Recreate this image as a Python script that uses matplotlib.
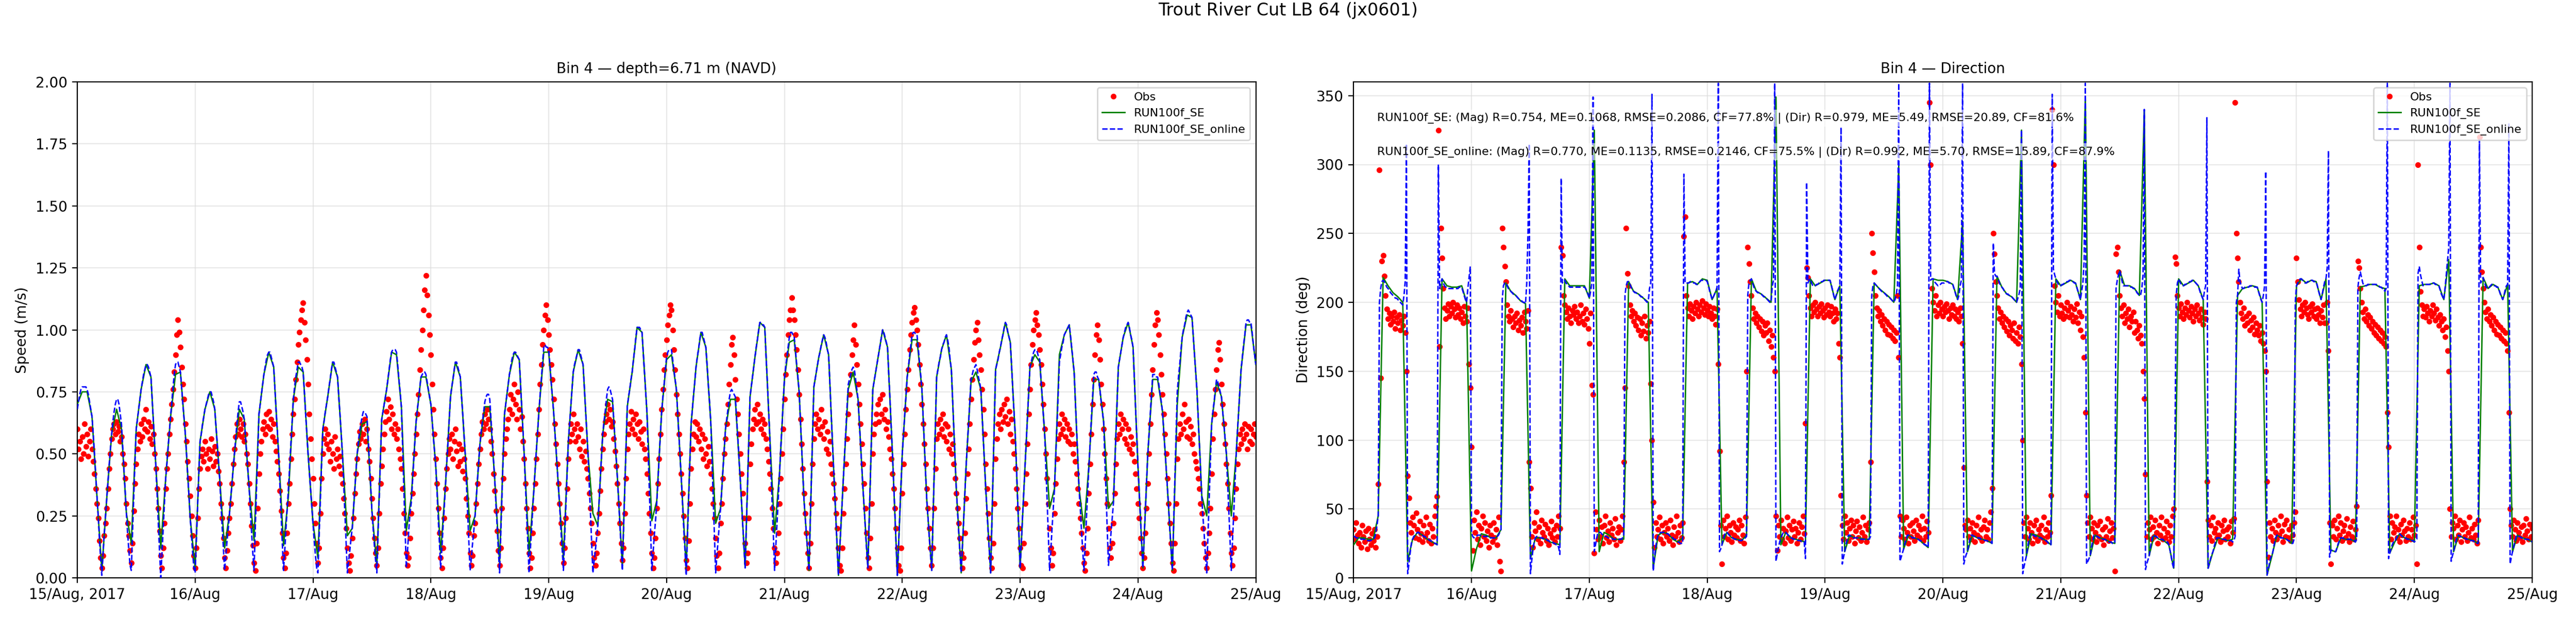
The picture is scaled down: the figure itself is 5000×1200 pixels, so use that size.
import matplotlib
matplotlib.use("Agg")
import matplotlib.pyplot as plt
import numpy as np
from datetime import datetime, timedelta

# ---------------- data ----------------
SUPTITLE = "Trout River Cut LB 64 (jx0601)"
TITLE_SPD = "Bin 4 \u2014 depth=6.71 m (NAVD)"
TITLE_DIR = "Bin 4 \u2014 Direction"
SERIES = ["Obs", "RUN100f_SE", "RUN100f_SE_online"]
STATS = [
    "RUN100f_SE: (Mag) R=0.754, ME=0.1068, RMSE=0.2086, CF=77.8% | (Dir) R=0.979, ME=5.49, RMSE=20.89, CF=81.6%",
    "RUN100f_SE_online: (Mag) R=0.770, ME=0.1135, RMSE=0.2146, CF=75.5% | (Dir) R=0.992, ME=5.70, RMSE=15.89, CF=87.9%",
]
TICK_LABELS = ["15/Aug, 2017", "16/Aug", "17/Aug", "18/Aug", "19/Aug", "20/Aug",
               "21/Aug", "22/Aug", "23/Aug", "24/Aug", "25/Aug"]
START = datetime(2017, 8, 15)

# RUN100f_SE speed, hourly (cm/s)
SPD_SE_CMS = [
    70, 75, 75, 65, 33, 3, 32, 58, 68, 60,
    26, 14, 60, 76, 86, 81, 45, 12, 40, 65,
    82, 83, 58, 24, 4, 55, 68, 75, 68, 40,
    12, 26, 50, 68, 64, 36, 15, 66, 82, 91,
    85, 50, 13, 33, 72, 85, 83, 50, 22, 8,
    60, 73, 87, 81, 50, 17, 20, 50, 62, 63,
    27, 5, 64, 76, 91, 90, 69, 19, 32, 63,
    81, 81, 70, 45, 10, 38, 73, 87, 81, 50,
    19, 25, 54, 69, 69, 40, 6, 66, 82, 91,
    88, 50, 10, 36, 67, 91, 91, 67, 36, 8,
    55, 83, 92, 86, 50, 26, 21, 58, 72, 71,
    40, 5, 69, 83, 101, 99, 67, 23, 31, 67,
    88, 90, 76, 40, 4, 62, 85, 99, 93, 63,
    22, 28, 60, 72, 72, 40, 4, 73, 89, 103,
    101, 58, 18, 42, 80, 95, 96, 75, 31, 3,
    77, 89, 98, 90, 45, 1, 40, 76, 83, 72,
    36, 4, 76, 88, 100, 93, 50, 1, 50, 81,
    96, 96, 76, 31, 3, 81, 92, 98, 84, 36,
    2, 45, 79, 83, 76, 36, 2, 84, 93, 103,
    95, 58, 4, 45, 85, 90, 87, 58, 28, 36,
    90, 98, 102, 83, 36, 20, 45, 80, 80, 63,
    28, 31, 85, 97, 103, 93, 45, 4, 50, 80,
    80, 67, 36, 3, 70, 97, 106, 105, 76, 33,
    25, 62, 79, 73, 50, 25, 50, 84, 102, 102,
    86,
]

# RUN100f_SE_online speed, 15-min (cm/s)
SPD_ONLINE_CMS = [
    68, 71, 74, 76, 77, 77, 77, 77, 76, 74, 71, 68, 65, 58, 50, 42,
    33, 25, 16, 8, 1, 10, 18, 25, 32, 39, 46, 52, 58, 63, 67, 70,
    72, 72, 70, 66, 62, 53, 44, 35, 26, 18, 11, 5, 3, 18, 33, 47,
    60, 64, 68, 72, 76, 79, 82, 84, 86, 86, 85, 83, 81, 72, 63, 54,
    45, 34, 22, 11, 0, 10, 20, 30, 40, 46, 53, 59, 65, 71, 77, 82,
    86, 87, 87, 85, 83, 77, 70, 64, 58, 50, 41, 33, 24, 17, 10, 4,
    2, 15, 29, 42, 55, 58, 62, 65, 68, 70, 72, 74, 75, 75, 73, 71,
    68, 61, 54, 47, 40, 30, 21, 12, 3, 9, 15, 20, 26, 32, 38, 44,
    50, 56, 62, 67, 71, 71, 69, 67, 64, 57, 50, 43, 36, 27, 18, 10,
    3, 20, 36, 51, 66, 70, 74, 78, 82, 85, 88, 90, 91, 91, 89, 87,
    85, 76, 67, 59, 50, 38, 26, 14, 3, 11, 20, 28, 36, 45, 54, 63,
    72, 77, 81, 84, 87, 87, 86, 85, 83, 75, 66, 58, 50, 43, 36, 29,
    22, 15, 9, 4, 2, 17, 31, 46, 60, 63, 67, 70, 73, 77, 80, 84,
    87, 87, 85, 83, 81, 73, 66, 58, 50, 38, 26, 14, 2, 7, 11, 16,
    20, 28, 35, 43, 50, 55, 59, 62, 65, 67, 67, 66, 65, 56, 46, 37,
    27, 20, 13, 7, 2, 18, 33, 49, 64, 67, 70, 73, 76, 80, 84, 88,
    91, 92, 92, 92, 91, 86, 80, 75, 69, 53, 36, 20, 4, 11, 19, 26,
    30, 38, 47, 55, 63, 68, 72, 77, 81, 82, 83, 83, 82, 79, 76, 73,
    70, 64, 57, 51, 45, 35, 24, 14, 4, 12, 21, 29, 38, 47, 55, 64,
    73, 77, 80, 84, 87, 87, 85, 83, 81, 73, 66, 58, 50, 38, 26, 14,
    3, 8, 14, 19, 25, 32, 40, 47, 54, 59, 63, 67, 71, 73, 74, 74,
    72, 64, 56, 48, 40, 30, 21, 11, 2, 18, 34, 50, 66, 70, 74, 78,
    82, 85, 88, 90, 91, 91, 90, 89, 88, 79, 69, 60, 50, 38, 26, 14,
    2, 11, 19, 28, 36, 44, 52, 59, 67, 74, 80, 87, 93, 94, 93, 93,
    92, 86, 79, 73, 67, 59, 52, 44, 36, 28, 19, 11, 3, 16, 29, 42,
    55, 62, 69, 76, 83, 86, 88, 90, 92, 92, 90, 88, 86, 77, 68, 59,
    50, 38, 26, 14, 2, 7, 11, 16, 21, 30, 40, 49, 58, 63, 67, 72,
    76, 77, 76, 74, 72, 64, 56, 48, 40, 31, 21, 12, 3, 20, 36, 53,
    69, 73, 76, 80, 83, 88, 92, 97, 101, 101, 101, 100, 99, 91, 83, 75,
    67, 51, 35, 19, 3, 10, 17, 23, 30, 39, 49, 58, 67, 73, 78, 84,
    89, 91, 92, 92, 92, 88, 84, 80, 76, 67, 58, 49, 40, 30, 20, 11,
    1, 16, 32, 47, 62, 68, 74, 79, 85, 89, 92, 96, 99, 99, 97, 95,
    93, 86, 78, 71, 63, 48, 32, 17, 2, 9, 15, 22, 28, 36, 44, 52,
    60, 64, 68, 72, 75, 76, 75, 74, 73, 65, 57, 48, 40, 31, 22, 13,
    4, 21, 38, 56, 73, 77, 81, 85, 89, 93, 96, 100, 103, 103, 102, 102,
    101, 90, 80, 69, 58, 44, 30, 17, 3, 13, 22, 32, 42, 52, 61, 71,
    80, 85, 89, 93, 97, 99, 99, 98, 97, 92, 86, 81, 75, 64, 53, 42,
    31, 24, 17, 10, 3, 22, 40, 59, 77, 80, 83, 86, 89, 91, 94, 96,
    98, 97, 95, 92, 90, 79, 67, 56, 45, 34, 23, 12, 1, 11, 21, 30,
    40, 50, 59, 69, 78, 80, 82, 84, 85, 84, 80, 76, 72, 63, 54, 45,
    36, 28, 19, 11, 4, 22, 40, 58, 76, 79, 82, 85, 88, 91, 94, 97,
    100, 99, 97, 95, 93, 82, 72, 61, 50, 38, 26, 13, 1, 13, 26, 38,
    50, 58, 66, 73, 81, 85, 90, 94, 98, 99, 99, 98, 98, 93, 87, 82,
    76, 65, 54, 42, 31, 24, 16, 9, 3, 23, 42, 62, 81, 84, 87, 89,
    92, 94, 95, 97, 98, 96, 93, 88, 84, 72, 60, 48, 36, 27, 18, 10,
    2, 13, 23, 34, 45, 54, 62, 71, 80, 82, 84, 85, 86, 84, 81, 79,
    76, 66, 56, 46, 36, 27, 18, 10, 2, 22, 43, 63, 84, 86, 88, 91,
    93, 96, 98, 101, 103, 102, 99, 97, 95, 86, 76, 67, 58, 45, 31, 18,
    4, 14, 25, 35, 45, 55, 65, 75, 85, 87, 89, 91, 92, 92, 91, 89,
    88, 80, 73, 65, 58, 44, 31, 17, 3, 11, 20, 28, 36, 49, 61, 74,
    87, 90, 93, 95, 98, 99, 100, 101, 102, 98, 93, 88, 83, 71, 60, 48,
    36, 28, 19, 11, 3, 13, 24, 34, 45, 54, 64, 73, 82, 83, 83, 81,
    80, 76, 71, 67, 63, 48, 34, 19, 5, 11, 18, 24, 30, 44, 57, 71,
    85, 88, 91, 94, 97, 99, 101, 102, 103, 101, 98, 96, 93, 81, 69, 57,
    45, 35, 24, 14, 4, 16, 27, 39, 50, 58, 66, 74, 82, 82, 82, 81,
    81, 78, 74, 71, 67, 59, 52, 44, 36, 28, 19, 11, 3, 21, 39, 57,
    75, 81, 86, 92, 97, 100, 102, 105, 107, 108, 107, 106, 105, 98, 90, 83,
    76, 65, 54, 43, 32, 24, 17, 9, 2, 17, 32, 47, 62, 67, 71, 76,
    80, 79, 77, 75, 73, 67, 62, 56, 50, 38, 27, 15, 3, 15, 26, 38,
    50, 59, 67, 76, 84, 89, 94, 98, 103, 104, 104, 103, 103, 99, 94, 90,
    86,
]

# Observed speed, 15-min (cm/s)
SPD_OBS_CMS = [
    60, 52, 55, 48, 57, 50, 62, 53, 58, 49, 55, 60, 52, 47, 42, 36,
    30, 24, 15, 8, 4, 9, 17, 22, 28, 36, 44, 50, 56, 60, 62, 58,
    63, 59, 61, 55, 57, 50, 46, 40, 30, 22, 17, 11, 6, 14, 27, 38,
    46, 52, 58, 55, 62, 57, 64, 60, 68, 59, 63, 56, 61, 54, 58, 50,
    44, 36, 28, 19, 9, 4, 12, 22, 36, 44, 50, 58, 64, 70, 76, 83,
    90, 98, 104, 99, 93, 85, 78, 72, 62, 55, 47, 40, 33, 25, 17, 9,
    4, 12, 24, 36, 44, 49, 52, 47, 55, 50, 44, 52, 48, 56, 51, 45,
    53, 47, 50, 43, 38, 30, 24, 16, 8, 4, 11, 18, 24, 30, 38, 46,
    52, 57, 62, 58, 64, 60, 57, 62, 55, 58, 50, 46, 38, 30, 21, 13,
    6, 3, 14, 28, 42, 50, 55, 60, 63, 58, 66, 61, 67, 60, 64, 57,
    62, 55, 51, 47, 42, 35, 27, 18, 8, 4, 10, 18, 30, 38, 48, 58,
    66, 72, 80, 87, 94, 99, 104, 108, 111, 103, 96, 88, 78, 66, 56, 48,
    40, 30, 22, 14, 6, 12, 26, 40, 50, 56, 60, 54, 58, 52, 47, 55,
    50, 44, 57, 48, 52, 45, 49, 42, 38, 32, 26, 20, 12, 6, 3, 9,
    16, 24, 34, 42, 48, 54, 59, 56, 62, 58, 64, 55, 60, 52, 47, 40,
    32, 24, 16, 10, 5, 12, 26, 38, 45, 52, 58, 63, 67, 72, 64, 69,
    60, 66, 58, 62, 56, 60, 52, 48, 44, 36, 26, 18, 10, 5, 8, 16,
    26, 34, 42, 50, 58, 66, 74, 84, 92, 100, 108, 116, 122, 114, 106, 98,
    90, 78, 68, 58, 48, 38, 28, 18, 8, 4, 12, 24, 36, 44, 50, 56,
    52, 58, 48, 55, 60, 51, 45, 54, 47, 52, 43, 48, 40, 32, 25, 18,
    10, 5, 9, 17, 22, 30, 38, 46, 52, 58, 63, 60, 66, 62, 68, 64,
    60, 55, 50, 42, 35, 27, 19, 11, 5, 12, 28, 40, 50, 56, 60, 64,
    68, 74, 66, 72, 78, 70, 64, 75, 68, 60, 65, 55, 48, 38, 28, 20,
    10, 4, 8, 18, 28, 38, 48, 58, 68, 78, 86, 94, 100, 106, 110, 104,
    98, 92, 86, 80, 72, 62, 54, 46, 38, 30, 22, 14, 6, 12, 24, 36,
    48, 55, 62, 58, 66, 60, 55, 62, 57, 52, 60, 49, 55, 47, 51, 44,
    40, 34, 28, 22, 14, 8, 5, 10, 18, 26, 35, 44, 52, 58, 63, 66,
    70, 64, 68, 61, 63, 56, 51, 45, 38, 30, 22, 14, 7, 12, 26, 40,
    52, 58, 62, 67, 60, 64, 58, 66, 62, 56, 63, 59, 54, 60, 52, 48,
    42, 34, 26, 18, 10, 4, 8, 16, 28, 38, 48, 58, 68, 76, 84, 90,
    96, 102, 106, 110, 108, 100, 92, 84, 74, 66, 58, 50, 42, 34, 25, 16,
    7, 4, 15, 30, 44, 52, 58, 63, 57, 62, 55, 60, 52, 58, 48, 56,
    50, 45, 53, 47, 42, 36, 30, 24, 16, 9, 4, 10, 22, 30, 40, 50,
    56, 62, 70, 78, 86, 94, 97, 90, 80, 72, 66, 58, 50, 42, 34, 24,
    14, 6, 10, 24, 46, 54, 60, 64, 68, 62, 70, 63, 66, 60, 64, 58,
    62, 56, 52, 47, 42, 36, 28, 20, 12, 6, 10, 18, 30, 40, 50, 60,
    72, 82, 90, 98, 104, 108, 113, 108, 104, 98, 92, 84, 74, 64, 54, 44,
    34, 26, 18, 10, 4, 14, 30, 46, 56, 62, 66, 60, 64, 58, 68, 61,
    56, 63, 52, 59, 50, 55, 46, 42, 38, 32, 26, 20, 12, 5, 3, 12,
    26, 36, 46, 56, 66, 74, 82, 90, 96, 102, 94, 86, 78, 70, 62, 54,
    46, 38, 28, 18, 8, 4, 16, 30, 50, 58, 62, 66, 70, 63, 72, 66,
    74, 64, 68, 60, 63, 57, 52, 48, 42, 36, 28, 20, 12, 5, 3, 12,
    34, 46, 58, 68, 76, 84, 92, 98, 103, 107, 109, 104, 100, 94, 86, 78,
    70, 62, 54, 46, 36, 28, 20, 12, 5, 12, 28, 44, 56, 62, 58, 64,
    60, 66, 57, 62, 55, 61, 52, 58, 50, 54, 46, 40, 34, 28, 22, 16,
    10, 4, 8, 18, 32, 42, 52, 62, 72, 80, 88, 95, 100, 103, 96, 90,
    84, 76, 68, 58, 46, 36, 26, 16, 8, 4, 14, 30, 48, 56, 62, 66,
    60, 68, 63, 70, 65, 72, 62, 67, 58, 64, 55, 50, 44, 36, 28, 20,
    12, 5, 4, 14, 30, 42, 54, 66, 76, 86, 94, 100, 104, 107, 102, 98,
    92, 86, 78, 70, 60, 50, 40, 30, 20, 12, 5, 10, 26, 38, 48, 56,
    62, 58, 66, 60, 64, 57, 62, 55, 60, 54, 58, 50, 54, 47, 42, 36,
    30, 24, 18, 12, 6, 3, 10, 20, 34, 46, 58, 70, 80, 90, 98, 102,
    96, 88, 78, 70, 60, 50, 40, 30, 20, 12, 8, 14, 22, 34, 46, 56,
    62, 58, 66, 60, 64, 56, 62, 54, 60, 52, 57, 50, 54, 47, 42, 36,
    30, 24, 16, 10, 4, 8, 18, 28, 38, 50, 62, 74, 84, 94, 102, 107,
    104, 98, 90, 82, 74, 66, 58, 50, 40, 30, 22, 14, 6, 3, 14, 30,
    48, 56, 62, 58, 66, 60, 70, 63, 57, 64, 56, 61, 54, 58, 50, 47,
    44, 40, 36, 30, 26, 20, 14, 8, 4, 10, 18, 28, 42, 56, 66, 76,
    84, 92, 95, 88, 78, 70, 62, 54, 46, 38, 28, 18, 10, 5, 12, 24,
    36, 46, 52, 58, 54, 60, 56, 62, 58, 52, 61, 55, 60, 54, 58, 62,
    57,
]

# RUN100f_SE direction, hourly (deg)
DIR_SE = [
    24, 29, 29, 28, 28, 45, 218, 212, 207, 204,
    200, 12, 28, 33, 31, 28, 26, 24, 217, 212,
    211, 211, 212, 200, 5, 21, 32, 31, 29, 29,
    35, 214, 208, 205, 201, 199, 14, 29, 29, 28,
    26, 25, 24, 217, 212, 212, 212, 212, 203, 325,
    19, 33, 31, 28, 28, 28, 215, 208, 206, 203,
    200, 7, 31, 33, 32, 28, 26, 29, 214, 215,
    213, 217, 216, 202, 210, 24, 33, 29, 28, 27,
    31, 217, 208, 206, 203, 200, 349, 24, 33, 29,
    28, 27, 26, 217, 212, 214, 216, 216, 202, 212,
    19, 31, 29, 29, 28, 28, 214, 210, 207, 204,
    200, 299, 21, 31, 29, 28, 25, 22, 217, 216,
    216, 215, 213, 202, 259, 19, 31, 29, 28, 27,
    25, 219, 211, 206, 204, 200, 325, 16, 32, 31,
    29, 27, 24, 217, 212, 214, 216, 214, 202, 349,
    16, 31, 29, 28, 26, 25, 223, 212, 212, 210,
    205, 339, 16, 31, 28, 27, 24, 7, 217, 212,
    214, 216, 212, 202, 7, 19, 29, 28, 27, 28,
    205, 210, 211, 212, 211, 200, 2, 16, 31, 29,
    28, 25, 212, 217, 214, 216, 215, 202, 217, 20,
    19, 29, 28, 28, 26, 211, 212, 213, 213, 211,
    210, 18, 26, 32, 29, 28, 26, 212, 213, 213,
    214, 212, 202, 231, 19, 31, 29, 28, 27, 25,
    218, 210, 213, 211, 202, 213, 19, 31, 29, 28,
    26,
]

# RUN100f_SE_online direction, 15-min (deg)
DIR_ONLINE = [
    30, 30, 29, 29, 29, 29, 28, 28, 28, 28, 27, 27, 27, 27, 27, 28,
    28, 29, 32, 38, 45, 200, 210, 215, 216, 215, 213, 211, 210, 209, 207, 206,
    205, 204, 203, 203, 202, 201, 200, 199, 198, 205, 215, 315, 3, 10, 18, 25,
    28, 30, 31, 32, 33, 33, 32, 32, 31, 30, 30, 29, 28, 28, 27, 27,
    26, 26, 25, 25, 24, 300, 210, 214, 217, 214, 212, 211, 211, 210, 210, 210,
    210, 210, 210, 210, 210, 210, 211, 211, 211, 208, 205, 202, 200, 210, 218, 226,
    33, 30, 29, 30, 30, 31, 31, 31, 31, 31, 30, 30, 30, 30, 29, 29,
    29, 29, 29, 29, 29, 30, 31, 33, 35, 202, 212, 214, 214, 212, 210, 209,
    208, 207, 206, 205, 205, 204, 203, 202, 201, 201, 200, 200, 199, 214, 250, 315,
    3, 12, 20, 26, 29, 30, 30, 30, 29, 29, 29, 28, 28, 28, 27, 27,
    26, 26, 26, 25, 25, 24, 24, 22, 17, 290, 214, 216, 216, 214, 213, 212,
    211, 211, 211, 211, 211, 211, 211, 211, 211, 211, 211, 211, 211, 210, 208, 206,
    203, 208, 214, 349, 19, 24, 29, 33, 33, 33, 32, 31, 31, 30, 30, 29,
    29, 29, 29, 28, 28, 28, 28, 28, 28, 28, 28, 29, 30, 205, 212, 215,
    215, 213, 211, 209, 208, 207, 207, 206, 206, 205, 204, 204, 203, 202, 201, 200,
    201, 210, 214, 351, 5, 14, 22, 28, 31, 32, 33, 33, 33, 33, 33, 32,
    32, 31, 30, 30, 29, 28, 28, 27, 26, 26, 25, 25, 25, 293, 214, 214,
    214, 214, 215, 215, 215, 214, 214, 213, 213, 214, 215, 216, 216, 216, 216, 216,
    215, 212, 208, 205, 202, 204, 206, 208, 211, 359, 19, 21, 24, 28, 31, 33,
    33, 32, 31, 30, 29, 29, 28, 28, 28, 28, 27, 27, 27, 28, 28, 29,
    30, 205, 214, 216, 217, 214, 211, 209, 208, 207, 207, 206, 206, 205, 204, 204,
    203, 202, 201, 200, 200, 212, 216, 359, 12, 17, 22, 26, 29, 31, 33, 33,
    33, 32, 31, 30, 29, 29, 28, 28, 28, 28, 27, 27, 27, 26, 26, 26,
    14, 287, 214, 216, 217, 214, 212, 212, 212, 213, 213, 214, 214, 215, 215, 216,
    216, 216, 216, 216, 216, 213, 209, 205, 202, 205, 208, 210, 212, 327, 10, 15,
    19, 24, 28, 31, 31, 30, 30, 29, 29, 29, 29, 29, 28, 28, 28, 28,
    28, 28, 28, 28, 28, 30, 205, 212, 214, 213, 212, 211, 210, 209, 208, 207,
    207, 206, 205, 204, 204, 203, 202, 201, 200, 202, 206, 212, 359, 12, 15, 18,
    21, 25, 28, 31, 31, 30, 30, 29, 29, 29, 29, 28, 28, 27, 27, 26,
    25, 24, 24, 23, 22, 359, 216, 217, 217, 215, 214, 213, 212, 213, 213, 214,
    214, 214, 215, 215, 215, 214, 214, 213, 213, 210, 207, 204, 202, 205, 212, 216,
    359, 10, 14, 17, 19, 24, 28, 31, 31, 30, 30, 29, 29, 29, 29, 28,
    28, 28, 27, 27, 27, 26, 26, 26, 25, 243, 221, 219, 219, 217, 214, 212,
    211, 210, 208, 207, 206, 206, 205, 205, 204, 203, 202, 201, 200, 203, 206, 210,
    325, 3, 8, 12, 16, 22, 28, 32, 32, 31, 31, 30, 30, 30, 29, 29,
    29, 28, 28, 27, 27, 26, 25, 25, 24, 351, 224, 220, 217, 215, 213, 212,
    212, 213, 213, 214, 214, 215, 215, 216, 216, 215, 215, 214, 214, 211, 208, 205,
    202, 208, 214, 230, 359, 10, 12, 14, 16, 22, 27, 31, 31, 30, 30, 29,
    29, 29, 28, 28, 28, 27, 27, 26, 26, 26, 25, 25, 25, 210, 216, 220,
    223, 219, 215, 212, 212, 212, 212, 212, 212, 211, 211, 210, 210, 209, 207, 206,
    205, 205, 210, 220, 340, 6, 10, 13, 16, 22, 27, 31, 31, 30, 30, 29,
    29, 28, 28, 28, 27, 27, 26, 26, 24, 20, 15, 10, 7, 100, 205, 214,
    217, 215, 213, 212, 212, 213, 213, 214, 214, 215, 215, 216, 216, 215, 214, 213,
    212, 209, 206, 204, 202, 208, 212, 334, 7, 10, 14, 17, 19, 23, 26, 29,
    29, 29, 29, 28, 28, 28, 28, 27, 27, 27, 27, 27, 26, 27, 30, 200,
    205, 224, 215, 212, 210, 210, 211, 211, 211, 211, 212, 212, 212, 212, 211, 211,
    211, 208, 205, 202, 200, 205, 212, 295, 2, 6, 11, 15, 16, 20, 25, 29,
    31, 30, 30, 29, 29, 29, 28, 28, 28, 27, 27, 26, 25, 25, 28, 200,
    212, 214, 216, 217, 217, 216, 215, 214, 214, 215, 215, 216, 216, 216, 215, 215,
    215, 212, 208, 205, 202, 206, 211, 215, 217, 225, 310, 15, 20, 20, 19, 19,
    19, 22, 25, 27, 29, 29, 29, 28, 28, 28, 28, 28, 28, 27, 27, 27,
    26, 28, 211, 218, 222, 218, 214, 212, 212, 212, 213, 213, 213, 213, 213, 213,
    213, 213, 212, 212, 211, 211, 210, 210, 208, 210, 359, 14, 18, 21, 24, 26,
    26, 28, 30, 31, 32, 31, 30, 30, 29, 29, 28, 28, 28, 28, 27, 27,
    26, 27, 28, 221, 226, 220, 216, 212, 213, 213, 213, 213, 213, 213, 214, 214,
    214, 213, 213, 212, 212, 209, 206, 204, 202, 210, 220, 230, 240, 359, 12, 16,
    19, 23, 27, 30, 31, 30, 30, 29, 29, 29, 28, 28, 28, 27, 27, 27,
    27, 26, 26, 25, 25, 318, 214, 216, 218, 215, 212, 210, 210, 211, 212, 213,
    213, 212, 212, 211, 211, 209, 206, 204, 202, 205, 209, 212, 213, 330, 10, 15,
    19, 23, 27, 30, 31, 30, 30, 29, 29, 29, 28, 28, 28, 28, 27, 27,
    26,
]

# Observed direction, 15-min (deg)
DIR_OBS = [
    35, 28, 40, 31, 25, 33, 22, 38, 30, 26, 34, 21, 36, 28, 24, 32,
    27, 35, 22, 30, 68, 296, 145, 230, 234, 219, 205, 195, 188, 192, 184, 190,
    186, 193, 181, 189, 185, 191, 180, 187, 183, 190, 178, 150, 74, 58, 40, 33,
    44, 38, 29, 47, 35, 28, 41, 32, 26, 38, 30, 44, 33, 27, 39, 25,
    36, 30, 45, 52, 59, 325, 168, 254, 232, 210, 196, 188, 194, 199, 190, 197,
    192, 200, 195, 189, 198, 191, 196, 188, 193, 185, 197, 190, 186, 196, 155, 138,
    95, 20, 42, 33, 48, 28, 38, 24, 36, 45, 30, 40, 27, 34, 22, 38,
    31, 26, 40, 29, 35, 24, 44, 12, 5, 254, 240, 226, 215, 198, 190, 186,
    194, 188, 182, 190, 185, 192, 180, 187, 183, 189, 178, 193, 186, 181, 194, 84,
    65, 30, 22, 40, 34, 48, 28, 37, 25, 42, 33, 30, 39, 27, 36, 24,
    32, 41, 29, 35, 26, 38, 30, 45, 36, 240, 234, 205, 198, 193, 188, 196,
    190, 185, 194, 191, 197, 188, 193, 185, 190, 198, 186, 192, 184, 195, 188, 181,
    170, 192, 140, 133, 18, 48, 35, 28, 42, 30, 37, 25, 38, 45, 29, 34,
    26, 40, 31, 36, 28, 43, 24, 33, 37, 27, 35, 45, 84, 138, 254, 221,
    212, 198, 190, 194, 186, 192, 183, 189, 180, 188, 176, 185, 179, 190, 174, 183,
    178, 186, 141, 100, 55, 22, 40, 30, 35, 44, 28, 38, 25, 33, 40, 30,
    36, 27, 42, 31, 24, 37, 30, 45, 33, 26, 38, 29, 40, 248, 262, 205,
    196, 190, 199, 194, 188, 197, 192, 200, 195, 190, 198, 193, 201, 196, 191, 199,
    194, 190, 197, 192, 188, 196, 190, 184, 195, 155, 92, 38, 10, 42, 30, 36,
    45, 28, 38, 33, 26, 40, 31, 37, 29, 35, 42, 27, 38, 31, 25, 44,
    150, 240, 228, 215, 205, 196, 188, 192, 185, 190, 182, 188, 179, 186, 176, 183,
    178, 185, 172, 180, 168, 176, 160, 150, 45, 20, 38, 30, 42, 28, 36, 25,
    34, 44, 29, 38, 27, 35, 41, 30, 36, 25, 33, 40, 28, 37, 45, 32,
    112, 225, 218, 205, 196, 190, 198, 193, 200, 195, 190, 197, 192, 199, 194, 189,
    196, 191, 198, 193, 190, 197, 192, 186, 195, 188, 192, 170, 160, 60, 38, 28,
    45, 33, 40, 27, 36, 42, 30, 38, 25, 34, 41, 29, 37, 27, 33, 44,
    30, 38, 26, 35, 40, 84, 250, 236, 222, 205, 196, 190, 194, 186, 191, 183,
    188, 180, 186, 177, 184, 176, 182, 174, 180, 172, 178, 205, 160, 45, 30, 42,
    36, 28, 44, 33, 25, 38, 30, 40, 34, 27, 42, 31, 38, 29, 35, 45,
    27, 36, 30, 41, 33, 345, 300, 210, 200, 194, 205, 190, 198, 192, 200, 195,
    190, 197, 193, 199, 194, 188, 196, 191, 198, 190, 195, 188, 193, 186, 196, 190,
    170, 80, 38, 35, 42, 30, 36, 28, 40, 33, 26, 38, 31, 44, 29, 35,
    27, 37, 42, 30, 35, 28, 40, 48, 65, 250, 235, 215, 205, 196, 188, 193,
    185, 190, 182, 188, 179, 186, 176, 183, 180, 174, 185, 172, 178, 170, 182, 175,
    155, 100, 40, 30, 44, 36, 28, 40, 33, 25, 38, 30, 42, 27, 35, 31,
    38, 29, 44, 26, 35, 30, 40, 33, 60, 340, 300, 212, 200, 193, 205, 190,
    198, 192, 188, 196, 190, 200, 194, 189, 197, 191, 186, 195, 189, 199, 185, 193,
    180, 190, 175, 160, 120, 60, 40, 30, 44, 36, 28, 40, 33, 26, 38, 30,
    41, 28, 35, 24, 37, 30, 43, 27, 34, 40, 29, 36, 5, 235, 240, 222,
    205, 196, 190, 198, 185, 192, 188, 195, 182, 190, 186, 193, 178, 186, 180, 174,
    183, 176, 170, 150, 130, 75, 30, 40, 35, 44, 28, 37, 30, 42, 33, 25,
    38, 31, 44, 28, 36, 29, 41, 33, 26, 38, 30, 45, 50, 233, 228, 205,
    196, 190, 199, 193, 188, 196, 191, 200, 194, 189, 197, 192, 186, 195, 190, 198,
    192, 187, 195, 189, 184, 193, 188, 70, 42, 30, 38, 27, 44, 33, 36, 29,
    40, 31, 26, 38, 34, 42, 28, 35, 30, 37, 25, 41, 33, 43, 345, 250,
    232, 215, 200, 192, 188, 196, 183, 190, 185, 192, 180, 187, 182, 189, 177, 185,
    180, 176, 183, 172, 178, 170, 165, 150, 70, 15, 40, 30, 36, 27, 42, 33,
    28, 38, 31, 45, 34, 26, 39, 30, 42, 29, 35, 27, 38, 31, 40, 48,
    232, 215, 202, 195, 190, 198, 193, 200, 196, 191, 188, 197, 193, 199, 190, 195,
    188, 196, 191, 185, 194, 189, 198, 185, 185, 200, 165, 40, 10, 38, 30, 42,
    28, 36, 45, 31, 40, 27, 34, 38, 29, 43, 32, 26, 37, 30, 41, 28,
    35, 52, 230, 225, 210, 200, 193, 188, 195, 186, 191, 183, 189, 181, 186, 178,
    184, 176, 182, 174, 180, 172, 178, 170, 175, 168, 120, 95, 45, 28, 40, 33,
    37, 45, 29, 35, 26, 39, 31, 42, 34, 27, 36, 30, 40, 28, 35, 44,
    31, 38, 10, 300, 240, 208, 198, 190, 195, 189, 197, 192, 186, 194, 190, 198,
    192, 187, 195, 189, 183, 191, 186, 180, 188, 175, 182, 165, 150, 50, 30, 40,
    36, 45, 28, 38, 31, 42, 26, 35, 40, 30, 37, 27, 33, 44, 29, 36,
    28, 39, 31, 25, 42, 320, 240, 222, 210, 200, 193, 188, 195, 186, 191, 183,
    189, 180, 186, 177, 184, 176, 182, 174, 180, 172, 178, 170, 165, 120, 50, 38,
    30, 42, 35, 27, 40, 33, 29, 37, 26, 38, 31, 43, 34, 28, 39, 30,
    36,
]

# ---------------- build ----------------
spd_se = np.array(SPD_SE_CMS) / 100.0
spd_on = np.array(SPD_ONLINE_CMS) / 100.0
spd_ob = np.array(SPD_OBS_CMS) / 100.0
dir_se = np.array(DIR_SE, dtype=float)
dir_on = np.array(DIR_ONLINE, dtype=float)
dir_ob = np.array(DIR_OBS, dtype=float)

for name, arr, n in [("SPD_SE", spd_se, 241), ("SPD_ONLINE", spd_on, 961),
                     ("SPD_OBS", spd_ob, 961), ("DIR_SE", dir_se, 241),
                     ("DIR_ONLINE", dir_on, 961), ("DIR_OBS", dir_ob, 961)]:
    if len(arr) != n:
        raise SystemExit(f"{name} has {len(arr)} values, expected {n}")

t_hour = [START + timedelta(hours=i) for i in range(241)]
t_q = [START + timedelta(minutes=15 * i) for i in range(961)]
day_ticks = [START + timedelta(days=d) for d in range(len(TICK_LABELS))]

plt.rcParams['font.family'] = ['DejaVu Sans']
fig, (ax1, ax2) = plt.subplots(1, 2, figsize=(25, 6), dpi=200)
fig.subplots_adjust(left=0.030, right=0.983, top=0.8675, bottom=0.065, wspace=0.083)

def style(ax):
    ax.grid(True, color='#d9d9d9', linewidth=0.8, alpha=0.6)
    ax.set_axisbelow(True)
    ax.set_xlim(day_ticks[0], day_ticks[-1])
    ax.set_xticks(day_ticks)
    ax.set_xticklabels(TICK_LABELS)
    ax.tick_params(labelsize=10)

MS = 4.0

# speed
ax1.plot(t_q, spd_ob, 'o', color='red', markersize=MS, markeredgewidth=0, label=SERIES[0], zorder=2)
ax1.plot(t_hour, spd_se, '-', color='green', linewidth=1.0, label=SERIES[1], zorder=3)
ax1.plot(t_q, spd_on, '--', color='blue', linewidth=1.0, label=SERIES[2], zorder=4)
style(ax1)
ax1.set_ylim(0, 2.0)
ax1.set_yticks(np.arange(0, 2.01, 0.25))
ax1.set_ylabel("Speed (m/s)", fontsize=10)
ax1.set_title(TITLE_SPD, fontsize=10)
ax1.legend(loc='upper right', fontsize=8)

# direction
ax2.plot(t_q, dir_ob, 'o', color='red', markersize=MS, markeredgewidth=0, label=SERIES[0], zorder=2)
ax2.plot(t_hour, dir_se, '-', color='green', linewidth=1.0, label=SERIES[1], zorder=3)
ax2.plot(t_q, dir_on, '--', color='blue', linewidth=1.0, label=SERIES[2], zorder=4)
style(ax2)
ax2.set_ylim(0, 360)
ax2.set_yticks(np.arange(0, 351, 50))
ax2.set_ylabel("Direction (deg)", fontsize=10)
ax2.set_title(TITLE_DIR, fontsize=10)
ax2.legend(loc='upper right', fontsize=8)
for y, s in zip([0.927, 0.859], STATS):
    ax2.text(0.02, y, s, transform=ax2.transAxes, fontsize=8, va='center', ha='left',
             zorder=6, bbox=dict(facecolor='white', alpha=0.6, edgecolor='none', pad=2))

fig.suptitle(SUPTITLE, fontsize=12, y=0.983, va='center')
fig.savefig("out.png", dpi=200)
